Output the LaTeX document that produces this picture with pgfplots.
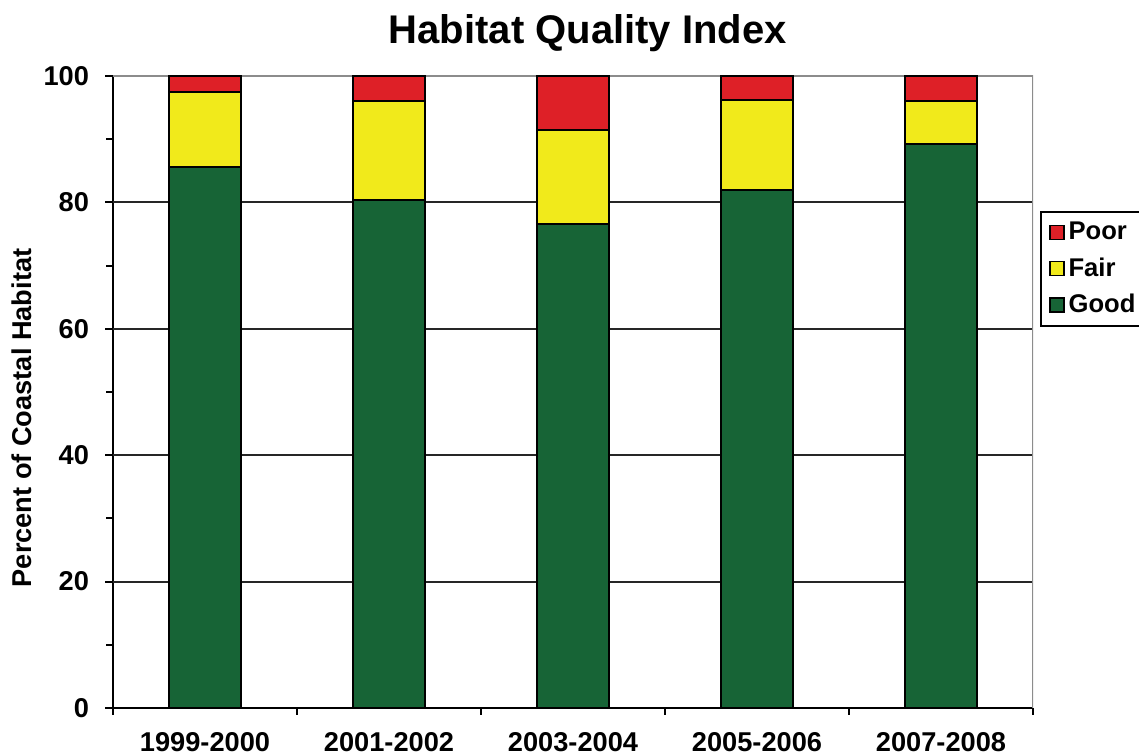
\documentclass[border=0pt]{standalone}
\usepackage{pgfplots}
\pgfplotsset{compat=1.18}
\usepackage{fontspec}
\setmainfont{Liberation Sans}
\definecolor{good}{RGB}{23,100,54}
\definecolor{fair}{RGB}{241,234,27}
\definecolor{poor}{RGB}{222,32,39}
\newcommand\lab{\fontsize{13.6}{16}\selectfont\bfseries}
\begin{document}
\begin{tikzpicture}
\useasboundingbox (0,0) rectangle (569.5pt,377pt);
\begin{axis}[
  at={(56.5pt,23pt)}, anchor=south west,
  scale only axis, width=460pt, height=316pt,
  ybar stacked, bar width=36pt,
  xmin=-0.5, xmax=4.5, ymin=0, ymax=100,
  axis lines=left, axis line style={-, line width=1pt, black},
  tick align=outside,
  tick style={line width=1pt, black},
  major tick length=4pt, minor tick length=3.5pt,
  xtick={0,1,2,3,4},
  xticklabels={1999-2000,2001-2002,2003-2004,2005-2006,2007-2008},
  major x tick style={draw=none},
  minor xtick={-0.5,0.5,1.5,2.5,3.5,4.5},
  ytick={0,20,40,60,80,100},
  minor ytick={10,30,50,70,90},
  extra y ticks={20,40,60,80},
  extra y tick labels={},
  extra y tick style={grid=major},
  major grid style={line width=1pt, black!85},
  /pgf/number format/assume math mode=true,
  ticklabel style={font=\lab},
  xticklabel style={yshift=-4.5pt},
  yticklabel style={xshift=-4.5pt},
  title={Habitat Quality Index},
  title style={font=\fontsize{20}{24}\selectfont\bfseries, at={(rel axis cs:0.516,1.0332)}, anchor=base},
  ylabel={Percent of Coastal Habitat},
  ylabel style={font=\lab, at={(rel axis cs:-0.0989,0.459)}, anchor=center, rotate=0},
  legend style={at={(rel axis cs:1.0076,0.786)}, anchor=north west, draw=black, line width=1pt,
    font=\fontsize{12.8}{15}\selectfont\bfseries, inner xsep=4pt, inner ysep=3pt, row sep=3.5pt,
    /tikz/every odd column/.append style={column sep=0pt}},
  legend cell align=left,
  reverse legend,
  legend image code/.code={\draw[#1, line width=0.8pt] (0pt,-3.5pt) rectangle (7pt,3.5pt);},
]
\addplot[fill=good, draw=black, line width=1pt] coordinates {(0,85.6) (1,80.3) (2,76.6) (3,81.9) (4,89.3)};
\addlegendentry{Good}
\addplot[fill=fair, draw=black, line width=1pt] coordinates {(0,11.9) (1,15.7) (2,14.9) (3,14.3) (4,6.7)};
\addlegendentry{Fair}
\addplot[fill=poor, draw=black, line width=1pt] coordinates {(0,2.5) (1,4.0) (2,8.5) (3,3.8) (4,4.0)};
\addlegendentry{Poor}
\draw[black!45, line width=1pt] (rel axis cs:0,1) -- (rel axis cs:1,1) -- (rel axis cs:1,0);
\end{axis}
\end{tikzpicture}
\end{document}
